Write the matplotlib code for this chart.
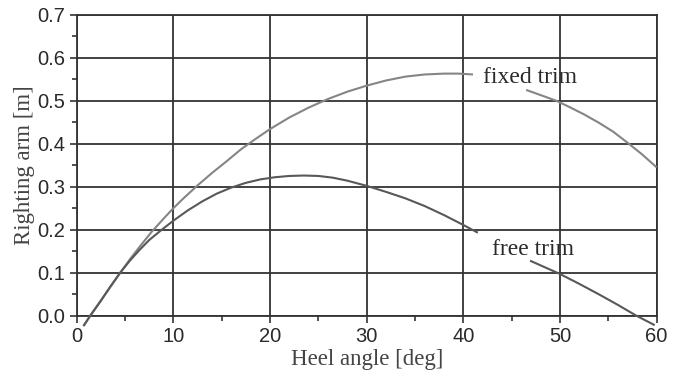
import numpy as np
import matplotlib.pyplot as plt
from matplotlib.ticker import MultipleLocator

# values (heel angle in deg, righting arm in m)
# NaN marks the gap left in each curve for its label
fixed_heel = [0.7, 1.4, 2.5, 3.5, 4.5, 5.5, 6.5, 7.75, 9, 10, 11, 12.5, 14, 15.5, 17,
              18.5, 20, 22, 24, 26, 28, 30, 32, 34, 36, 38, 39.5, 41, np.nan,
              46.5, 48, 49.6, 51, 52.5, 54, 55.5, 57, 58.5, 60]
fixed_gz = [-0.024, 0.0, 0.035, 0.068, 0.1, 0.131, 0.16, 0.195, 0.226, 0.25, 0.272,
            0.303, 0.332, 0.359, 0.387, 0.411, 0.434, 0.461, 0.484, 0.504, 0.521,
            0.535, 0.547, 0.556, 0.561, 0.563, 0.563, 0.561, np.nan,
            0.525, 0.513, 0.500, 0.485, 0.468, 0.449, 0.428, 0.402, 0.375, 0.345]

free_heel = [0.7, 1.4, 2.5, 3.5, 4.5, 5.5, 6.5, 7.5, 8.8, 10, 11.5, 13, 14.5, 16, 17.5,
             19, 20.5, 22, 23.5, 25, 26.5, 28, 30, 32, 34, 36, 38, 40, 41.5, np.nan,
             46.9, 48.5, 50, 52, 54, 56, 57.9, 59.8]
free_gz = [-0.024, 0.0, 0.035, 0.068, 0.1, 0.128, 0.153, 0.176, 0.2, 0.221, 0.245,
           0.266, 0.284, 0.298, 0.309, 0.317, 0.322, 0.325, 0.326, 0.325, 0.321,
           0.314, 0.302, 0.288, 0.273, 0.255, 0.234, 0.211, 0.193, np.nan,
           0.128, 0.112, 0.097, 0.074, 0.050, 0.025, 0.0, -0.022]

labels = ["fixed trim", "free trim"]
label_pos = [(46.9, 0.553), (47.2, 0.154)]

fig = plt.figure(figsize=(6.8, 3.72), dpi=100)
ax = fig.add_axes([0.1128, 0.1513, 0.8529, 0.8092])

dark = "#333333"
ax.plot(fixed_heel, fixed_gz, color="#858585", lw=1.5, clip_on=False, zorder=3,
        solid_capstyle="butt")
ax.plot(free_heel, free_gz, color="#585858", lw=1.5, clip_on=False, zorder=3,
        solid_capstyle="butt")

for txt, (x, y) in zip(labels, label_pos):
    ax.text(x, y, txt, ha="center", va="center", fontsize=17,
            family="Liberation Serif", color="#2a2a2a", zorder=4)

ax.set_xlim(0, 60)
ax.set_ylim(0, 0.7)
ax.xaxis.set_major_locator(MultipleLocator(10))
ax.xaxis.set_minor_locator(MultipleLocator(5))
ax.yaxis.set_major_locator(MultipleLocator(0.1))
ax.yaxis.set_minor_locator(MultipleLocator(0.05))
ax.yaxis.set_major_formatter(plt.FormatStrFormatter("%.1f"))

ax.grid(True, which="major", color=dark, lw=1.3)
ax.set_axisbelow(True)
for s in ax.spines.values():
    s.set_color(dark)
    s.set_linewidth(1.3)

ax.tick_params(which="major", direction="out", length=5, width=1.2, color=dark,
               labelsize=14.5, labelcolor="#2a2a2a", pad=3)
ax.tick_params(which="minor", direction="out", length=3.5, width=1.2, color=dark)
for lab in ax.get_xticklabels() + ax.get_yticklabels():
    lab.set_family("Liberation Sans")

ax.set_xlabel("Heel angle [deg]", fontsize=16.5, family="Liberation Serif",
              color="#444444", labelpad=2.5)
ax.set_ylabel("Righting arm [m]", fontsize=16.5, family="Liberation Serif",
              color="#444444", labelpad=2)

fig.savefig("out.png", dpi=100)
